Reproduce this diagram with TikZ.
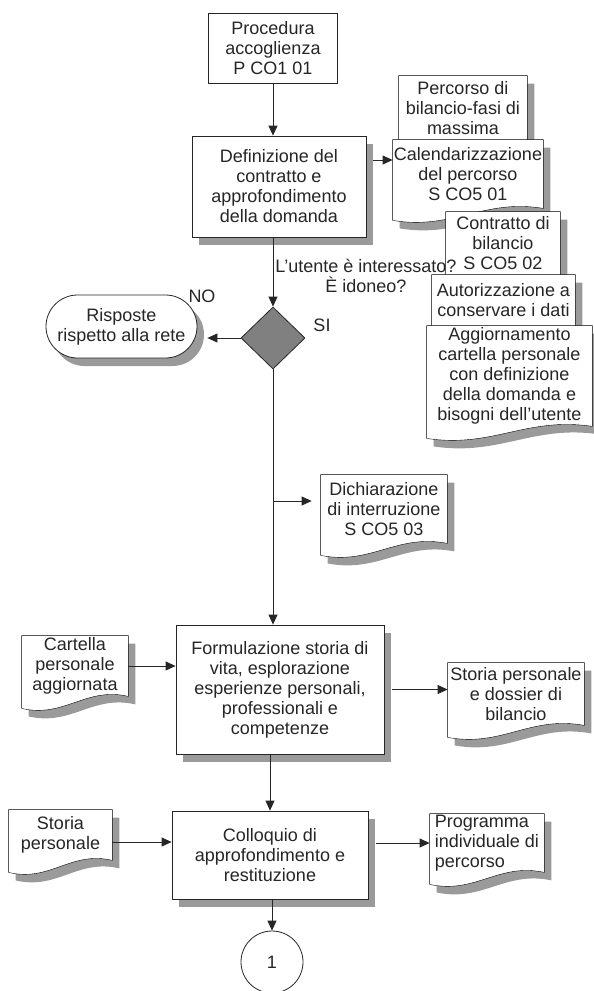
\documentclass[tikz,border=0pt]{standalone}
\usepackage{fontspec}
\setmainfont{Liberation Sans}
\usepackage{tikz}
\definecolor{shadowgray}{HTML}{9A9A9A}
\definecolor{diamgray}{HTML}{808080}
\definecolor{inkgray}{HTML}{262626}
\usetikzlibrary{shapes.geometric, shapes.misc, arrows.meta, calc, shadows, backgrounds}

\begin{document}
\begin{tikzpicture}[
    x=1pt, y=-1pt,
    font=\fontsize{18}{20}\selectfont,
    color=inkgray, line width=0.8pt,
    >={Triangle[length=10pt,width=9pt]},
    shadowed/.style={drop shadow={shadow xshift=7pt, shadow yshift=-8pt, fill=shadowgray, opacity=1}},
    startbox/.style={rectangle, draw, fill=white, align=center, inner sep=0pt},
    process/.style={startbox, shadowed},
    doc/.style={rectangle, align=center, inner sep=0pt},
    terminal/.style={rounded rectangle, draw, fill=white, align=center, inner sep=0pt, shadowed},
    decision/.style={diamond, draw, fill=diamgray, inner sep=0pt},
    connector/.style={circle, draw, fill=white, inner sep=0pt},
    % outline of a document; #2 lowers the wavy edge (hidden part of a stack)
    docpath/.style 2 args={insert path={(#1.north west) -- (#1.north east) -- ($(#1.south east)+(0,#2)$)
        .. controls ($(#1.south west)!0.6!(#1.south east)+(0,#2-10)$)
        and ($(#1.south west)!0.4!(#1.south east)+(0,#2+22)$) .. ($(#1.south west)+(0,#2+12)$) -- cycle}},
]
\useasboundingbox (0,0) rectangle (594,991);

% main column
\node[startbox, minimum width=129pt, minimum height=70pt] (proc) at (273,48) {Procedura\\accoglienza\\P CO1 01};
\node[process, minimum width=174pt, minimum height=101pt] (defin) at (279,186.5) {Definizione del\\contratto e\\approfondimento\\della domanda};
\node[decision, minimum width=64pt, minimum height=62pt] (dec) at (273,338) {};
\node[terminal, minimum width=151pt, minimum height=63pt] (term) at (121.5,326.5) {Risposte\\rispetto alla rete};
\node (no) at (202,296) {NO};
\node (si) at (322,325) {SI};
\node[process, minimum width=208pt, minimum height=129pt] (form) at (280,689.5) {Formulazione storia di\\vita, esplorazione\\esperienze personali,\\professionali e\\competenze};
\node[process, minimum width=196pt, minimum height=88pt] (coll) at (270,855) {Colloquio di\\approfondimento e\\restituzione};
\node[connector, minimum size=62pt] (conn) at (272,962) {1};

% documents
\node[doc, minimum width=128pt, minimum height=64pt] (perc) at (463,108) {Percorso di\\bilancio-fasi di\\massima};
\node[doc, minimum width=150pt, minimum height=68pt] (cal) at (468,174) {Calendarizzazione\\del percorso\\S CO5 01};
\node[doc, minimum width=114pt, minimum height=62pt] (contr) at (503,243) {Contratto di\\bilancio\\S CO5 02};
\node[doc, minimum width=143pt, minimum height=51pt] (aut) at (503.5,300.5) {Autorizzazione a\\conservare i dati};
\node[doc, minimum width=165pt, minimum height=100pt] (agg) at (509.5,376) {Aggiornamento\\cartella personale\\con definizione\\della domanda e\\bisogni dell'utente};
\node[doc, minimum width=126pt, minimum height=68pt] (dich) at (384,509) {Dichiarazione\\di interruzione\\S CO5 03};
\node[doc, minimum width=106pt, minimum height=60pt] (cart) at (75,666) {Cartella\\personale\\aggiornata};
\node[doc, minimum width=136pt, minimum height=62pt] (stor) at (516,694) {Storia personale\\e dossier di\\bilancio};
\node[doc, minimum width=103pt, minimum height=50pt] (stp) at (60.5,835) {Storia\\personale};
\node[doc, minimum width=114pt, minimum height=58pt, align=left] (prog) at (487,843) {Programma\\individuale di\\percorso};

\begin{scope}[on background layer]
\foreach \d/\e in {perc/14,cal/0,contr/12,aut/12,agg/0,dich/0,cart/0,stor/0,stp/0,prog/0}{
    \fill[shadowgray, transform canvas={shift={(7pt,-8pt)}}] [docpath={\d}{\e}];
    \draw[fill=white] [docpath={\d}{\e}];
}
\end{scope}

% connectors
\draw[->] (proc.south) -- (proc.south |- defin.north);
\draw[->] ([shift={(7,-26.5)}]defin.east) -- ([shift={(0,-14)}]cal.west);
\draw[->] (defin.south -| dec.north) -- node[right, pos=0.55, align=center, inner sep=2pt] (ask) {L'utente è interessato?\\È idoneo?} (dec.north);
\draw[->] (dec.west) -- ($(term.east |- dec.west)+(10,0)$);
\draw[->] (dec.south) -- (dec.south |- form.north);
\draw[->] ($(dec.south |- dich.west)+(0,-8)$) -- ($(dich.west)+(-9,-8)$);
\draw[->] (cart.east) -- (cart.east -| form.west);
\draw[->] ($(form.east)+(8,0)$) -- (form.east -| stor.west);
\draw[->] (coll.north |- form.south) -- (coll.north);
\draw[->] ($(stp.east)+(0,7)$) -- ($(stp.east -| coll.west)+(0,7)$);
\draw[->] ($(coll.east |- prog.west)+(8,0)$) -- (prog.west);
\draw[->] (conn.north |- coll.south) -- (conn.north);
\end{tikzpicture}
\end{document}
